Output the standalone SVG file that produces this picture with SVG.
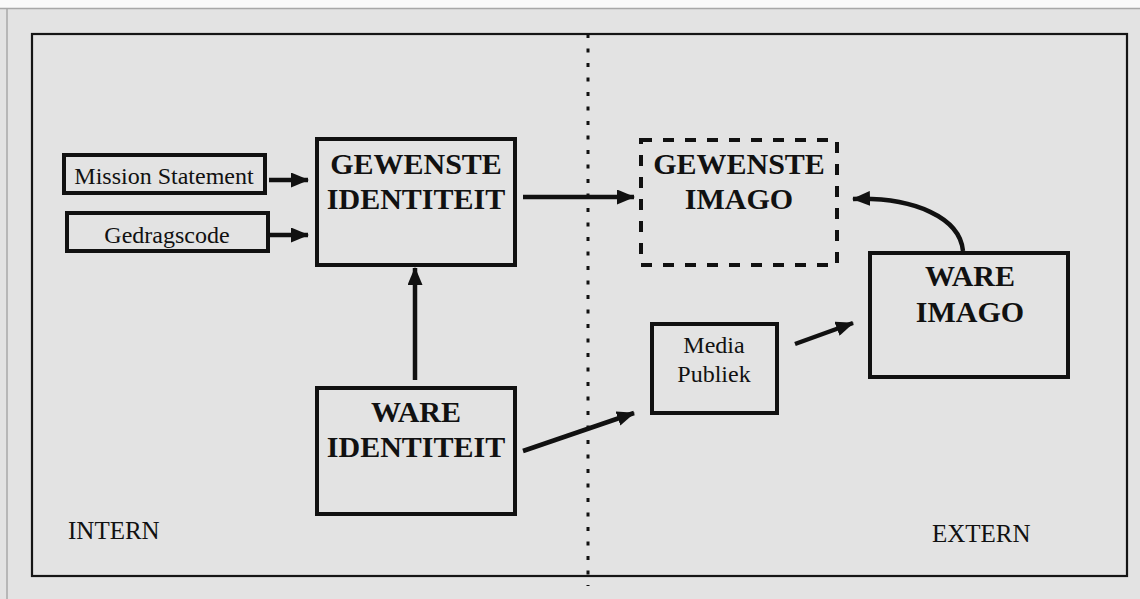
<svg xmlns="http://www.w3.org/2000/svg" width="1140" height="599" viewBox="0 0 1140 599">
  <style>
    .box { fill: none; stroke: #111; stroke-width: 4; }
    .dashed { stroke-dasharray: 11 11; }
    .frame { fill: none; stroke: #151515; stroke-width: 2.2; }
    .lbl { font-family: "Liberation Serif", "Times New Roman", serif; fill: #111; text-anchor: middle; }
    .big { font-size: 30px; font-weight: bold; }
    .small { font-size: 24px; }
    .zone { font-family: "Liberation Serif", "Times New Roman", serif; fill: #111; font-size: 25px; }
    .conn { fill: none; stroke: #111; stroke-width: 4.5; marker-end: url(#head); }
  </style>
  <defs>
    <marker id="head" markerUnits="userSpaceOnUse" markerWidth="18" markerHeight="15" refX="17" refY="7.5" orient="auto">
      <path d="M0,0 L18,7.5 L0,15 Z" fill="#111"/>
    </marker>
  </defs>

  <!-- page and scanned panel -->
  <rect x="0" y="0" width="1140" height="599" fill="#fafafa"/>
  <rect x="0" y="8" width="1140" height="591" fill="#e3e3e3"/>
  <line x1="0" y1="8.5" x2="1140" y2="8.5" stroke="#a8a8a8" stroke-width="1.5"/>
  <line x1="7" y1="8" x2="7" y2="599" stroke="#a8a8a8" stroke-width="1.5"/>

  <!-- outer frame and intern/extern divider -->
  <rect class="frame" x="32" y="34" width="1095" height="542"/>
  <line x1="588" y1="34" x2="588" y2="586" stroke="#111" stroke-width="3" stroke-dasharray="4 10.5"/>

  <g id="mission-statement">
    <rect class="box" x="64" y="155" width="201" height="38"/>
    <text class="lbl small" x="164" y="184">Mission Statement</text>
  </g>

  <g id="gedragscode">
    <rect class="box" x="67" y="213" width="201" height="38"/>
    <text class="lbl small" x="167" y="243">Gedragscode</text>
  </g>

  <g id="gewenste-identiteit">
    <rect class="box" x="317" y="139" width="198" height="126"/>
    <text class="lbl big" x="416" y="174">GEWENSTE</text>
    <text class="lbl big" x="416" y="209">IDENTITEIT</text>
  </g>

  <g id="gewenste-imago">
    <rect class="box dashed" x="641" y="140" width="196" height="125"/>
    <text class="lbl big" x="739" y="174">GEWENSTE</text>
    <text class="lbl big" x="739" y="209">IMAGO</text>
  </g>

  <g id="ware-identiteit">
    <rect class="box" x="317" y="388" width="198" height="126"/>
    <text class="lbl big" x="416" y="422">WARE</text>
    <text class="lbl big" x="416" y="457">IDENTITEIT</text>
  </g>

  <g id="media-publiek">
    <rect class="box" x="652" y="324" width="125" height="89"/>
    <text class="lbl small" x="714" y="353">Media</text>
    <text class="lbl small" x="714" y="382">Publiek</text>
  </g>

  <g id="ware-imago">
    <rect class="box" x="870" y="253" width="198" height="124"/>
    <text class="lbl big" x="970" y="286">WARE</text>
    <text class="lbl big" x="970" y="322">IMAGO</text>
  </g>

  <g id="zones">
    <text class="zone" x="68" y="539">INTERN</text>
    <text class="zone" x="932" y="542">EXTERN</text>
  </g>

  <g id="connectors">
    <line class="conn" x1="269" y1="180" x2="308" y2="180"/>
    <line class="conn" x1="270" y1="235" x2="308" y2="235"/>
    <line class="conn" x1="523" y1="197" x2="634" y2="197"/>
    <line class="conn" x1="415" y1="380" x2="415" y2="268"/>
    <line class="conn" x1="523" y1="451" x2="634" y2="413"/>
    <line class="conn" x1="795" y1="344" x2="853" y2="323"/>
    <path class="conn" d="M963,251 C960,218 915,197 853,199"/>
  </g>
</svg>
